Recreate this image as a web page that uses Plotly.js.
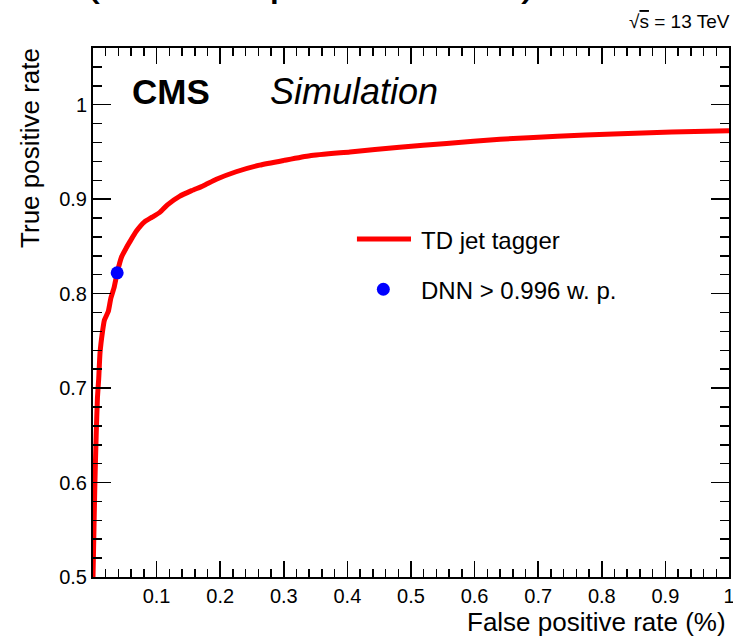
<!DOCTYPE html>
<html>
<head>
<meta charset="utf-8">
<script src="https://cdn.plot.ly/plotly-3.0.1.min.js"></script>
<style>html,body{margin:0;padding:0;background:#fff;}#chart{width:733px;height:638px;}</style>
</head>
<body>
<div id="chart"></div>
<script>
// ROC curve of the TD jet tagger
var fprValues = [0.000, 0.0015, 0.003, 0.005, 0.007, 0.009, 0.011, 0.015, 0.018, 0.024, 0.028, 0.033, 0.038, 0.045, 0.052, 0.058, 0.068, 0.081, 0.093, 0.105, 0.117, 0.136, 0.155, 0.173, 0.194, 0.225, 0.262, 0.300, 0.341, 0.404, 0.482, 0.556, 0.640, 0.730, 0.818, 0.910, 1.000];
var tprValues = [0.500, 0.550, 0.600, 0.650, 0.690, 0.710, 0.737, 0.760, 0.772, 0.781, 0.795, 0.806, 0.822, 0.839, 0.848, 0.855, 0.866, 0.876, 0.881, 0.886, 0.894, 0.903, 0.909, 0.914, 0.921, 0.929, 0.936, 0.941, 0.946, 0.950, 0.955, 0.959, 0.9635, 0.9665, 0.969, 0.971, 0.9725];
// DNN working point
var dnnFpr = [0.038];
var dnnTpr = [0.822];
// tick labels
var xTickVals = [0.1, 0.2, 0.3, 0.4, 0.5, 0.6, 0.7, 0.8, 0.9, 1.0];
var xTickText = ["0.1", "0.2", "0.3", "0.4", "0.5", "0.6", "0.7", "0.8", "0.9", "1"];
var yTickVals = [0.5, 0.6, 0.7, 0.8, 0.9, 1.0];
var yTickText = ["0.5", "0.6", "0.7", "0.8", "0.9", "1"];
var seriesNames = ["TD jet tagger", "DNN > 0.996 w. p."];

var FONT = "Liberation Sans, Arial, Helvetica, sans-serif";

var traces = [
  {x: fprValues, y: tprValues, type: "scatter", mode: "lines", name: seriesNames[0],
   line: {color: "#ff0000", width: 5, shape: "spline", smoothing: 0.5}, hoverinfo: "skip"},
  {x: dnnFpr, y: dnnTpr, type: "scatter", mode: "markers", name: seriesNames[1],
   marker: {color: "#0000ff", size: 13}, hoverinfo: "skip"}
];

var axisCommon = {
  showgrid: false, zeroline: false, showline: true, linecolor: "#000", linewidth: 2,
  mirror: "ticks", ticks: "inside", tickcolor: "#000", tickwidth: 1.5,
  tickmode: "array", ticklabeloverflow: "allow", tickfont: {family: FONT, size: 20, color: "#000"}
};

var layout = {
  width: 733, height: 638,
  margin: {l: 93, r: 4, t: 48, b: 61},
  paper_bgcolor: "#fff", plot_bgcolor: "#fff",
  showlegend: false,
  xaxis: Object.assign({}, axisCommon, {
    range: [0, 1], tickvals: xTickVals, ticktext: xTickText, ticklen: 16,
    minor: {dtick: 0.02, ticks: "inside", ticklen: 8, tickcolor: "#000", tickwidth: 1.5, showgrid: false}
  }),
  yaxis: Object.assign({}, axisCommon, {
    range: [0.5, 1.06], tickvals: yTickVals, ticktext: yTickText, ticklen: 18,
    minor: {dtick: 0.02, ticks: "inside", ticklen: 9, tickcolor: "#000", tickwidth: 1.5, showgrid: false}
  }),
  annotations: [
    {text: "<b>CMS</b>", xref: "paper", yref: "paper", x: 0.0582, y: 0.9187, xanchor: "left", yanchor: "middle",
     showarrow: false, font: {family: FONT, size: 35, color: "#000"}},
    {text: "<i>Simulation</i>", xref: "paper", yref: "paper", x: 0.2752, y: 0.9187, xanchor: "left", yanchor: "middle",
     showarrow: false, font: {family: FONT, size: 36, color: "#000"}},
    {text: seriesNames[0], xref: "paper", yref: "paper", x: 0.5125, y: 0.6352, xanchor: "left", yanchor: "middle",
     showarrow: false, font: {family: FONT, size: 24, color: "#000"}},
    {text: seriesNames[1], xref: "paper", yref: "paper", x: 0.5125, y: 0.5425, xanchor: "left", yanchor: "middle",
     showarrow: false, font: {family: FONT, size: 24, color: "#000"}},
    {text: "True positive rate", xref: "paper", yref: "paper", x: -0.0990, y: 1.004, xanchor: "center", yanchor: "top",
     textangle: -90, showarrow: false, font: {family: FONT, size: 26, color: "#000"}},
    {text: "False positive rate (%)", xref: "paper", yref: "paper", x: 0.9984, y: -0.0851, xanchor: "right", yanchor: "middle",
     showarrow: false, font: {family: FONT, size: 26, color: "#000"}},
    {text: "√<span style=\"text-decoration:overline\">s</span> = 13 TeV", xref: "paper", yref: "paper", x: 1.0048, y: 1.0510, xanchor: "right", yanchor: "middle",
     showarrow: false, font: {family: FONT, size: 19, color: "#000"}},
    // clipped remnants of a large title above the frame
    {text: "(", xref: "paper", yref: "paper", x: (82 - 93) / 636, y: 1 + (48 - 6) / 529, xanchor: "left", yanchor: "bottom",
     showarrow: false, font: {family: FONT, size: 48, color: "#000"}},
    {text: "p", xref: "paper", yref: "paper", x: (267 - 93) / 636, y: 1 + (48 - 6) / 529, xanchor: "left", yanchor: "bottom",
     showarrow: false, font: {family: FONT, size: 48, color: "#000"}},
    {text: ")", xref: "paper", yref: "paper", x: (519 - 93) / 636, y: 1 + (48 - 6) / 529, xanchor: "left", yanchor: "bottom",
     showarrow: false, font: {family: FONT, size: 48, color: "#000"}}
  ],
  shapes: [
    {type: "line", xref: "paper", yref: "paper", x0: 0.415, x1: 0.500, y0: 0.639, y1: 0.639,
     line: {color: "#ff0000", width: 5}},
    {type: "circle", xref: "paper", yref: "paper", xsizemode: "pixel", ysizemode: "pixel",
     xanchor: 0.4565, yanchor: 0.5439, x0: -6.5, x1: 6.5, y0: -6.5, y1: 6.5,
     fillcolor: "#0000ff", line: {width: 0}}
  ]
};

Plotly.newPlot("chart", traces, layout, {displayModeBar: false, staticPlot: true});
</script>
</body>
</html>
